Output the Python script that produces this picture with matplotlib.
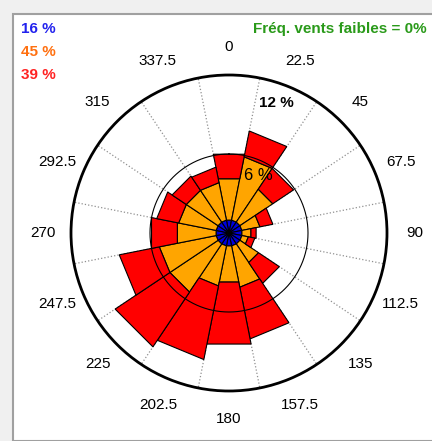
import numpy as np
import matplotlib
matplotlib.use('Agg')
import matplotlib.pyplot as plt
from matplotlib.patches import Rectangle

plt.rcParams['font.family'] = ['Liberation Sans', 'DejaVu Sans']

# wind directions (deg) and frequency per speed class (%)
directions = [0, 22.5, 45, 67.5, 90, 112.5, 135, 157.5,
              180, 202.5, 225, 247.5, 270, 292.5, 315, 337.5]
dir_labels = ['0', '22.5', '45', '67.5', '90', '112.5', '135', '157.5',
              '180', '202.5', '225', '247.5', '270', '292.5', '315', '337.5']
blue_pct = [1.0] * 16
orange_pct = [3.2, 4.9, 3.0, 1.4, 0.7, 0.5, 1.7, 3.2,
              2.8, 3.1, 4.4, 4.4, 3.0, 2.9, 2.9, 2.9]
red_pct = [1.9, 2.0, 1.9, 1.0, 0.4, 0.5, 1.9, 4.0,
           4.8, 5.7, 5.0, 3.1, 2.0, 1.7, 1.3, 1.2]
class_totals = ['16 %', '45 %', '39 %']
text_colors = ['#2222EE', '#FF7010', '#FF2222']
calm_text = 'Fréq. vents faibles = 0%'

fig = plt.figure(figsize=(4.32, 4.41), dpi=100, facecolor='#F0F0F0')
fig.patches.append(Rectangle((13 / 432, 0), 1, 1 - 14 / 441, transform=fig.transFigure,
                             facecolor='white', edgecolor='#A0A0A0', linewidth=1.5,
                             zorder=-1))

ax = fig.add_axes([71 / 432, 50 / 441, 316 / 432, 316 / 441], projection='polar')
ax.set_theta_zero_location('N')
ax.set_theta_direction(-1)
ax.set_ylim(0, 12)
ax.set_yticks([])
ax.yaxis.set_visible(False)

width = 22.5
bottoms = np.zeros(len(directions))
for vals, col in zip([blue_pct, orange_pct, red_pct], ['#0000DD', '#FFA500', '#FF0000']):
    for i, d in enumerate(directions):
        t1 = np.radians(d - width / 2)
        t2 = np.radians(d + width / 2)
        r0 = bottoms[i]
        r1 = bottoms[i] + vals[i]
        ax.fill([t1, t1, t2, t2], [r0, r1, r1, r0], facecolor=col,
                edgecolor='black', linewidth=0.8, zorder=2)
    bottoms += np.array(vals)

# 6 % ring on top of the bars
th = np.linspace(0, 2 * np.pi, 361)
ax.plot(th, np.full_like(th, 6), color='black', linewidth=0.8, zorder=3)

# sector boundaries as dotted grid
ax.set_xticks(np.radians(directions), dir_labels)
ax.set_xticks(np.radians(np.array(directions) + width / 2), minor=True)
ax.xaxis.grid(False, which='major')
ax.xaxis.grid(True, which='minor', linestyle=':', color='#909090', linewidth=0.9)
ax.set_axisbelow(True)
ax.tick_params(axis='x', which='both', length=0, width=0, pad=13, labelsize=11)
ax.xaxis.set_tick_params(which='both', tick1On=False, tick2On=False)
ax.spines['polar'].set_linewidth(2)
ax.spines['polar'].set_capstyle('butt')

ax.text(np.radians(20), 10.5, '12 %', fontsize=11, fontweight='bold',
        ha='center', va='center', zorder=4)
ax.text(np.radians(27), 4.9, '6 %', fontsize=12, ha='center', va='center', zorder=4)

for k, (lab, c) in enumerate(zip(class_totals, text_colors)):
    fig.text(21 / 432, 1 - (29 + 23 * k) / 441, lab, color=c, fontsize=11,
             fontweight='bold', ha='left', va='center')
fig.text(427 / 432, 1 - 29 / 441, calm_text, color='#2A9A1A', fontsize=11,
         fontweight='bold', ha='right', va='center')

fig.savefig('out.png', dpi=100, facecolor=fig.get_facecolor())
